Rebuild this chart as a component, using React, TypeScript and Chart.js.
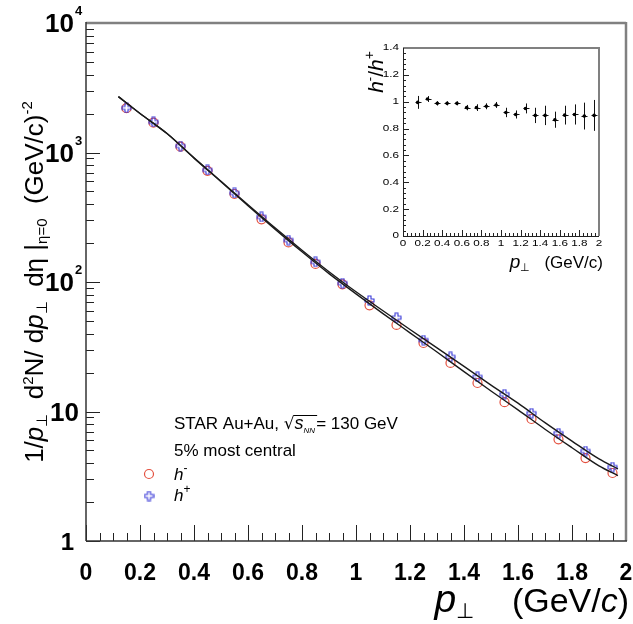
import React, { useEffect, useRef } from 'react';
import { Chart, registerables } from 'chart.js';

Chart.register(...registerables);

const FONT = '"Liberation Sans", Arial, Helvetica, sans-serif';

// ---------- data ----------
const ptBins = [0.15, 0.25, 0.35, 0.45, 0.55, 0.65, 0.75, 0.85, 0.95, 1.05, 1.15, 1.25, 1.35, 1.45, 1.55, 1.65, 1.75, 1.85, 1.95];
const hMinus = [2200, 1700, 1110, 722, 478, 305, 202, 138, 96, 66, 46.6, 33.8, 23.7, 16.6, 11.8, 8.75, 6.1, 4.37, 3.35];
const hPlus = [2210, 1720, 1122, 733, 487, 318, 211, 143, 98, 72, 53, 35.6, 26.4, 18.5, 13.6, 9.7, 6.8, 4.95, 3.72];

const fitPt = [0.12, 0.2, 0.3, 0.4, 0.5, 0.6, 0.7, 0.8, 0.9, 1.0, 1.1, 1.2, 1.3, 1.4, 1.5, 1.6, 1.7, 1.8, 1.9, 1.97];
const fitPlus = [2700, 2000, 1400, 910, 600, 395, 262, 176, 120, 84, 60, 43, 31, 22.3, 16, 11.6, 8.2, 5.9, 4.3, 3.6];
const fitMinus = [2700, 2000, 1400, 905, 595, 388, 256, 171, 116, 81, 57, 40.5, 28.8, 20.3, 14.4, 10.3, 7.3, 5.25, 3.8, 3.2];

const ratio = [0.995, 1.02, 0.988, 0.988, 0.988, 0.956, 0.956, 0.966, 0.976, 0.92, 0.905, 0.95, 0.898, 0.898, 0.866, 0.9, 0.905, 0.893, 0.898];
const ratioErr = [0.048, 0.022, 0.016, 0.015, 0.015, 0.02, 0.025, 0.022, 0.022, 0.035, 0.03, 0.037, 0.057, 0.072, 0.06, 0.07, 0.075, 0.1, 0.115];

const xTickValues = [0, 0.2, 0.4, 0.6, 0.8, 1, 1.2, 1.4, 1.6, 1.8, 2];
const xTickLabels = ['0', '0.2', '0.4', '0.6', '0.8', '1', '1.2', '1.4', '1.6', '1.8', '2'];
const yTickValues = [1, 10, 100, 1000, 10000];
const yTickBase = ['1', '10', '10', '10', '10'];
const yTickExp = ['', '', '2', '3', '4'];
const insetYTickValues = [0, 0.2, 0.4, 0.6, 0.8, 1, 1.2, 1.4];
const insetYTickLabels = ['0', '0.2', '0.4', '0.6', '0.8', '1', '1.2', '1.4'];

// ---------- helpers ----------
type Seg = { t: string; f: string; dy?: number };

function drawRich(ctx: CanvasRenderingContext2D, segs: Seg[], x: number, y: number, align: 'left' | 'right' | 'center') {
  ctx.textAlign = 'left';
  ctx.textBaseline = 'alphabetic';
  let total = 0;
  const widths: number[] = [];
  for (const s of segs) {
    ctx.font = s.f;
    const w = ctx.measureText(s.t).width;
    widths.push(w);
    total += w;
  }
  let cx = align === 'left' ? x : align === 'right' ? x - total : x - total / 2;
  segs.forEach((s, i) => {
    ctx.font = s.f;
    ctx.fillText(s.t, cx, y + (s.dy || 0));
    cx += widths[i];
  });
  return total;
}

function line(ctx: CanvasRenderingContext2D, x1: number, y1: number, x2: number, y2: number) {
  ctx.beginPath();
  ctx.moveTo(x1, y1);
  ctx.lineTo(x2, y2);
  ctx.stroke();
}

const RED = '#e4503f';
const BLUE = '#3838d8';

let crossCanvas: HTMLCanvasElement | null = null;
function getCross() {
  if (crossCanvas) return crossCanvas;
  const c = document.createElement('canvas');
  c.width = 11;
  c.height = 11;
  const g = c.getContext('2d')!;
  const cx = 5.5, cy = 5.5, a = 4.5, w = 1.5;
  g.beginPath();
  g.moveTo(cx - w, cy - a);
  g.lineTo(cx + w, cy - a);
  g.lineTo(cx + w, cy - w);
  g.lineTo(cx + a, cy - w);
  g.lineTo(cx + a, cy + w);
  g.lineTo(cx + w, cy + w);
  g.lineTo(cx + w, cy + a);
  g.lineTo(cx - w, cy + a);
  g.lineTo(cx - w, cy + w);
  g.lineTo(cx - a, cy + w);
  g.lineTo(cx - a, cy - w);
  g.lineTo(cx - w, cy - w);
  g.closePath();
  g.strokeStyle = BLUE;
  g.lineWidth = 1.1;
  g.stroke();
  crossCanvas = c;
  return c;
}

// ---------- plugins ----------
const mainDecor = {
  id: 'mainDecor',
  afterDraw(chart: any) {
    const { ctx, chartArea: a, scales } = chart;
    const x = scales.x, y = scales.y;
    ctx.save();
    // ticks
    ctx.strokeStyle = '#222';
    ctx.lineWidth = 1;
    for (let i = 0; i <= 40; i++) {
      const px = Math.round(x.getPixelForValue(i * 0.05)) + 0.5;
      const len = i % 4 === 0 ? 16 : 8;
      line(ctx, px, a.bottom, px, a.bottom - len);
    }
    for (let d = 1; d < 10000; d *= 10) {
      for (let m = 1; m <= 9; m++) {
        const py = Math.round(y.getPixelForValue(d * m)) + 0.5;
        const len = m === 1 ? 14 : 8;
        line(ctx, a.left, py, a.left + len, py);
      }
    }
    // frame
    ctx.strokeStyle = '#808080';
    ctx.lineWidth = 2.5;
    line(ctx, a.left, a.top, a.right, a.top);
    line(ctx, a.right, a.top - 1, a.right, a.bottom);
    ctx.strokeStyle = '#333';
    ctx.lineWidth = 1.5;
    line(ctx, a.left, a.top - 1, a.left, a.bottom);
    line(ctx, a.left, a.bottom, a.right + 1, a.bottom);

    ctx.fillStyle = '#000';
    // x tick labels
    ctx.font = `bold 23px ${FONT}`;
    ctx.textAlign = 'center';
    ctx.textBaseline = 'alphabetic';
    xTickValues.forEach((v, i) => {
      ctx.fillText(xTickLabels[i], x.getPixelForValue(v), a.bottom + 39);
    });
    // y tick labels
    yTickValues.forEach((v, i) => {
      const py = y.getPixelForValue(v);
      ctx.textAlign = 'right';
      if (yTickExp[i]) {
        ctx.font = `bold 26px ${FONT}`;
        ctx.fillText(yTickBase[i], a.left - 12, py + 9);
        ctx.font = `bold 13px ${FONT}`;
        ctx.textAlign = 'left';
        ctx.fillText(yTickExp[i], a.left - 11, py - 8);
      } else if (yTickBase[i].length > 1) {
        ctx.font = `bold 26px ${FONT}`;
        ctx.fillText(yTickBase[i], a.left - 7, py + 9);
      } else {
        ctx.font = `bold 24px ${FONT}`;
        ctx.fillText(yTickBase[i], a.left - 12, py + 9);
      }
    });

    // x title
    drawRich(ctx, [
      { t: 'p', f: `italic 39px ${FONT}` },
      { t: '\u22A5', f: `21px ${FONT}`, dy: 6 },
      { t: '    (GeV/', f: `34px ${FONT}` },
      { t: 'c', f: `italic 34px ${FONT}` },
      { t: ')', f: `34px ${FONT}` },
    ], 629, a.bottom + 71, 'right');

    // y title
    ctx.save();
    ctx.translate(43, 282);
    ctx.rotate(-Math.PI / 2);
    const F = 26, S = 15;
    drawRich(ctx, [
      { t: '1/', f: `${F}px ${FONT}` },
      { t: 'p', f: `italic ${F}px ${FONT}` },
      { t: '\u22A5', f: `${S}px ${FONT}`, dy: 4 },
      { t: '  d', f: `${F}px ${FONT}` },
      { t: '2', f: `${S}px ${FONT}`, dy: -10 },
      { t: 'N/ d', f: `${F}px ${FONT}` },
      { t: 'p', f: `italic ${F}px ${FONT}` },
      { t: '\u22A5', f: `${S}px ${FONT}`, dy: 4 },
      { t: '  d\u03B7 |', f: `${F}px ${FONT}` },
      { t: '\u03B7=0', f: `${S}px ${FONT}`, dy: 4 },
      { t: '  (GeV/c)', f: `${F}px ${FONT}` },
      { t: '-2', f: `${S}px ${FONT}`, dy: -11 },
    ], 0, 0, 'center');
    ctx.restore();

    // annotation text
    const T = 17;
    const w1 = drawRich(ctx, [{ t: 'STAR Au+Au, ', f: `${T}px ${FONT}` }], 174, 429, 'left');
    ctx.font = `${T}px "DejaVu Sans", ${FONT}`;
    const sqrtW = ctx.measureText('\u221A').width;
    ctx.fillText('\u221A', 174 + w1, 429);
    const sx = 174 + w1 + sqrtW;
    const w2 = drawRich(ctx, [
      { t: 's', f: `italic ${T + 1}px ${FONT}` },
      { t: 'NN', f: `italic 8px ${FONT}`, dy: 4 },
    ], sx, 429, 'left');
    ctx.strokeStyle = '#000';
    ctx.lineWidth = 1;
    line(ctx, sx - 1, 415.5, sx + w2 + 2, 415.5);
    drawRich(ctx, [{ t: '= 130 GeV', f: `${T}px ${FONT}` }], sx + w2 + 1, 429, 'left');
    drawRich(ctx, [{ t: '5% most central', f: `${T}px ${FONT}` }], 174, 456, 'left');
    drawRich(ctx, [
      { t: 'h', f: `italic ${T}px ${FONT}` },
      { t: '-', f: `12px ${FONT}`, dy: -8 },
    ], 174, 480, 'left');
    drawRich(ctx, [
      { t: 'h', f: `italic ${T}px ${FONT}` },
      { t: '+', f: `12px ${FONT}`, dy: -8 },
    ], 174, 501, 'left');
    // legend markers
    ctx.strokeStyle = RED;
    ctx.lineWidth = 1.2;
    ctx.beginPath();
    ctx.arc(149, 474, 4.5, 0, Math.PI * 2);
    ctx.stroke();
    ctx.drawImage(getCross(), 149 - 5.5, 496 - 5.5);
    ctx.restore();
  },
};

const insetDecor = {
  id: 'insetDecor',
  beforeDatasetsDraw(chart: any) {
    const { ctx, scales } = chart;
    const x = scales.x, y = scales.y;
    ctx.save();
    ctx.strokeStyle = '#111';
    ctx.lineWidth = 1;
    ptBins.forEach((v, i) => {
      const px = Math.round(x.getPixelForValue(v)) + 0.5;
      const y1 = y.getPixelForValue(ratio[i] - ratioErr[i]);
      const y2 = y.getPixelForValue(ratio[i] + ratioErr[i]);
      line(ctx, px, y1, px, y2);
      const py = Math.round(y.getPixelForValue(ratio[i])) + 0.5;
      line(ctx, px - 3, py, px + 3, py);
    });
    ctx.restore();
  },
  afterDraw(chart: any) {
    const { ctx, chartArea: a, scales } = chart;
    const x = scales.x, y = scales.y;
    ctx.save();
    ctx.strokeStyle = '#222';
    ctx.lineWidth = 1;
    for (let i = 0; i <= 50; i++) {
      const px = Math.round(x.getPixelForValue(i * 0.04)) + 0.5;
      line(ctx, px, a.bottom, px, a.bottom - (i % 5 === 0 ? 6 : 3));
    }
    for (let i = 0; i <= 35; i++) {
      const py = Math.round(y.getPixelForValue(i * 0.04)) + 0.5;
      line(ctx, a.left, py, a.left + (i % 5 === 0 ? 6 : 3), py);
    }
    ctx.strokeStyle = '#808080';
    ctx.lineWidth = 2;
    line(ctx, a.left, a.top, a.right, a.top);
    line(ctx, a.right, a.top - 1, a.right, a.bottom);
    ctx.strokeStyle = '#222';
    ctx.lineWidth = 1;
    line(ctx, a.left + 0.5, a.top, a.left + 0.5, a.bottom);
    line(ctx, a.left, a.bottom + 0.5, a.right, a.bottom + 0.5);

    ctx.fillStyle = '#000';
    ctx.font = `9px ${FONT}`;
    ctx.textBaseline = 'middle';
    xTickValues.forEach((v, i) => {
      ctx.save();
      ctx.translate(x.getPixelForValue(v), a.bottom + 8);
      ctx.scale(1.3, 1);
      ctx.textAlign = 'center';
      ctx.fillText(xTickLabels[i], 0, 0);
      ctx.restore();
    });
    insetYTickValues.forEach((v, i) => {
      ctx.save();
      ctx.translate(a.left - 4, y.getPixelForValue(v));
      ctx.scale(1.3, 1);
      ctx.textAlign = 'right';
      ctx.fillText(insetYTickLabels[i], 0, 0);
      ctx.restore();
    });
    // titles
    drawRich(ctx, [
      { t: 'p', f: `italic 19px ${FONT}` },
      { t: '\u22A5', f: `11px ${FONT}`, dy: 3 },
      { t: '   (GeV/c)', f: `17px ${FONT}` },
    ], 263, 238, 'right');
    ctx.save();
    ctx.translate(43, 42);
    ctx.rotate(-Math.PI / 2);
    drawRich(ctx, [
      { t: 'h', f: `italic 21px ${FONT}` },
      { t: '-', f: `13px ${FONT}`, dy: -9 },
      { t: '/', f: `21px ${FONT}` },
      { t: 'h', f: `italic 21px ${FONT}` },
      { t: '+', f: `14px ${FONT}`, dy: -9 },
    ], 0, 0, 'center');
    ctx.restore();
    ctx.restore();
  },
};

export default function App() {
  const mainRef = useRef<HTMLCanvasElement>(null);
  const insetRef = useRef<HTMLCanvasElement>(null);

  useEffect(() => {
    const cross = getCross();
    const main = new Chart(mainRef.current!, {
      type: 'scatter',
      data: {
        datasets: [
          {
            label: 'fit h+',
            data: fitPt.map((v, i) => ({ x: v, y: fitPlus[i] })),
            showLine: true,
            borderColor: '#1a1a1a',
            borderWidth: 1.4,
            pointRadius: 0,
            cubicInterpolationMode: 'monotone',
            order: 0,
          },
          {
            label: 'fit h-',
            data: fitPt.map((v, i) => ({ x: v, y: fitMinus[i] })),
            showLine: true,
            borderColor: '#1a1a1a',
            borderWidth: 1.4,
            pointRadius: 0,
            cubicInterpolationMode: 'monotone',
            order: 0,
          },
          {
            label: 'h-',
            data: ptBins.map((v, i) => ({ x: v, y: hMinus[i] })),
            pointStyle: 'circle',
            pointRadius: 4.5,
            borderColor: RED,
            backgroundColor: 'rgba(0,0,0,0)',
            borderWidth: 1.2,
            order: 2,
          },
          {
            label: 'h+',
            data: ptBins.map((v, i) => ({ x: v, y: hPlus[i] })),
            pointStyle: cross,
            pointRadius: 5,
            borderColor: BLUE,
            order: 1,
          },
        ],
      } as any,
      options: {
        animation: false,
        responsive: false,
        maintainAspectRatio: false,
        layout: { padding: { left: 86, top: 23, right: 7, bottom: 83 } },
        plugins: { legend: { display: false }, tooltip: { enabled: false } },
        scales: {
          x: { type: 'linear', min: 0, max: 2, display: false },
          y: { type: 'logarithmic', min: 1, max: 10000, display: false },
        },
      } as any,
      plugins: [mainDecor],
    });

    const inset = new Chart(insetRef.current!, {
      type: 'scatter',
      data: {
        datasets: [
          {
            label: 'h-/h+',
            data: ptBins.map((v, i) => ({ x: v, y: ratio[i] })),
            pointRadius: 1.8,
            backgroundColor: '#000',
            borderColor: '#000',
            borderWidth: 0,
          },
        ],
      },
      options: {
        animation: false,
        responsive: false,
        maintainAspectRatio: false,
        layout: { padding: { left: 63, top: 18, right: 34, bottom: 56 } },
        plugins: { legend: { display: false }, tooltip: { enabled: false } },
        scales: {
          x: { type: 'linear', min: 0, max: 2, display: false },
          y: { type: 'linear', min: 0, max: 1.4, display: false },
        },
      } as any,
      plugins: [insetDecor],
    });

    return () => {
      main.destroy();
      inset.destroy();
    };
  }, []);

  return (
    <div style={{ position: 'fixed', left: 0, top: 0, width: 633, height: 624, background: '#fff' }}>
      <canvas ref={mainRef} width={633} height={624} style={{ position: 'absolute', left: 0, top: 0, width: 633, height: 624 }} />
      <canvas ref={insetRef} width={293} height={262} style={{ position: 'absolute', left: 340, top: 30, width: 293, height: 262 }} />
    </div>
  );
}
